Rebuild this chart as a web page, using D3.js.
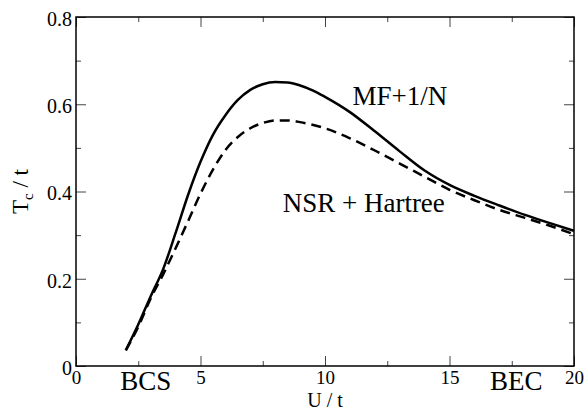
<!DOCTYPE html>
<html>
<head>
<meta charset="utf-8">
<script src="https://cdn.jsdelivr.net/npm/d3@7"></script>
<style>
  body { margin: 0; background: #fff; }
  svg { display: block; }
  svg text { font-family: "Liberation Serif", Tinos, "Times New Roman", Times, "DejaVu Serif", serif; }
</style>
</head>
<body>
<div id="chart"></div>
<script>
// U/t values and Tc/t for the two approximations
const uMF = [2.0, 2.5, 3.0, 3.5, 4.0, 4.5, 5.0, 5.5, 6.0, 6.5, 7.0, 7.5, 8.0, 8.5, 9.0, 9.5, 10.0, 11.0, 12.0, 13.0, 14.0, 15.0, 16.0, 17.0, 18.0, 19.0, 20.0];
const tcMF = [0.036, 0.095, 0.16, 0.222, 0.305, 0.392, 0.468, 0.53, 0.575, 0.61, 0.633, 0.646, 0.651, 0.65, 0.643, 0.632, 0.617, 0.582, 0.538, 0.492, 0.448, 0.415, 0.39, 0.368, 0.347, 0.328, 0.31];

const uNSR = [2.0, 2.5, 3.0, 3.5, 4.0, 4.5, 5.0, 5.5, 6.0, 6.5, 7.0, 7.5, 8.0, 8.5, 9.0, 10.0, 11.0, 12.0, 13.0, 14.0, 15.0, 16.0, 17.0, 18.0, 19.0, 20.0];
const tcNSR = [0.036, 0.09, 0.155, 0.21, 0.27, 0.332, 0.395, 0.45, 0.495, 0.525, 0.545, 0.557, 0.563, 0.563, 0.559, 0.545, 0.522, 0.494, 0.464, 0.434, 0.404, 0.38, 0.358, 0.34, 0.322, 0.302];

const xMajor = [0, 5, 10, 15, 20];
const xMinor = [2.5, 7.5, 12.5, 17.5];
const yMajor = [0, 0.2, 0.4, 0.6, 0.8];
const yMinor = [0.1, 0.3, 0.5, 0.7];

const width = 588, height = 411;
const margin = {top: 17, right: 14, bottom: 45, left: 76};

const svg = d3.select("#chart").append("svg")
    .attr("width", width)
    .attr("height", height);

const x = d3.scaleLinear().domain([0, 20]).range([margin.left, width - margin.right]);
const y = d3.scaleLinear().domain([0, 0.8]).range([height - margin.bottom, margin.top]);

const fmt = d => d === 0 ? "0" : d3.format(".1f")(d);

// ticks pointing inward on all four sides
function drawAxis(axis, transform, labels, size) {
  const g = svg.append("g").attr("transform", transform).call(axis);
  g.select(".domain").remove();
  g.attr("font-family", null);
  g.selectAll(".tick line").attr("stroke", "#444").attr("stroke-width", 1);
  g.selectAll("text").attr("font-size", size || 20).attr("fill", "#000");
  if (!labels) g.selectAll("text").remove();
  return g;
}

const yb = y(0), xl = x(0), xr = x(20), yt = y(0.8);

drawAxis(d3.axisBottom(x).tickValues(xMajor).tickSizeInner(-10).tickSizeOuter(0).tickPadding(5).tickFormat(d3.format("d")),
  `translate(0,${yb})`, true, 19);
drawAxis(d3.axisBottom(x).tickValues(xMinor).tickSizeInner(-5).tickSizeOuter(0), `translate(0,${yb})`, false);
drawAxis(d3.axisTop(x).tickValues(xMajor).tickSizeInner(-10).tickSizeOuter(0), `translate(0,${yt})`, false);
drawAxis(d3.axisTop(x).tickValues(xMinor).tickSizeInner(-5).tickSizeOuter(0), `translate(0,${yt})`, false);

const yAxis = drawAxis(d3.axisLeft(y).tickValues(yMajor).tickSizeInner(-10).tickSizeOuter(0).tickPadding(4).tickFormat(fmt),
  `translate(${xl},0)`, true);
yAxis.selectAll("text").attr("dy", "0.42em");
drawAxis(d3.axisLeft(y).tickValues(yMinor).tickSizeInner(-5).tickSizeOuter(0), `translate(${xl},0)`, false);
drawAxis(d3.axisRight(y).tickValues(yMajor).tickSizeInner(-10).tickSizeOuter(0), `translate(${xr},0)`, false);
drawAxis(d3.axisRight(y).tickValues(yMinor).tickSizeInner(-5).tickSizeOuter(0), `translate(${xr},0)`, false);

// frame
svg.append("rect")
    .attr("x", xl).attr("y", yt)
    .attr("width", xr - xl).attr("height", yb - yt)
    .attr("fill", "none").attr("stroke", "#000").attr("stroke-width", 1.5);

// curves
const line = d3.line().x(d => x(d[0])).y(d => y(d[1])).curve(d3.curveMonotoneX);

svg.append("path")
    .datum(d3.zip(uMF, tcMF))
    .attr("d", line)
    .attr("fill", "none").attr("stroke", "#000").attr("stroke-width", 2.5);

svg.append("path")
    .datum(d3.zip(uNSR, tcNSR))
    .attr("d", line)
    .attr("fill", "none").attr("stroke", "#000").attr("stroke-width", 2.5)
    .attr("stroke-dasharray", "10,6");

// annotations
const note = (txt, xv, yv, anchor) => svg.append("text")
    .attr("x", x(xv)).attr("y", y(yv))
    .attr("text-anchor", anchor || "start")
    .attr("font-size", 27)
    .text(txt);

note("MF+1/N", 11.1, 0.598);
note("NSR + Hartree", 8.3, 0.352);
svg.append("text").attr("x", x(2.8)).attr("y", yb + 24).attr("text-anchor", "middle").attr("font-size", 27).text("BCS");
svg.append("text").attr("x", x(17.68)).attr("y", yb + 24).attr("text-anchor", "middle").attr("font-size", 27).text("BEC");

// axis titles
svg.append("text")
    .attr("x", (xl + xr) / 2).attr("y", height - 4)
    .attr("text-anchor", "middle").attr("font-size", 20)
    .text("U / t");

const yt2 = svg.append("text")
    .attr("transform", `translate(28,${(yt + yb) / 2}) rotate(-90)`)
    .attr("text-anchor", "middle").attr("font-size", 23);
yt2.append("tspan").text("T");
yt2.append("tspan").attr("font-size", 15).attr("dy", 5).text("c");
yt2.append("tspan").attr("dy", -5).text(" / t");
</script>
</body>
</html>
